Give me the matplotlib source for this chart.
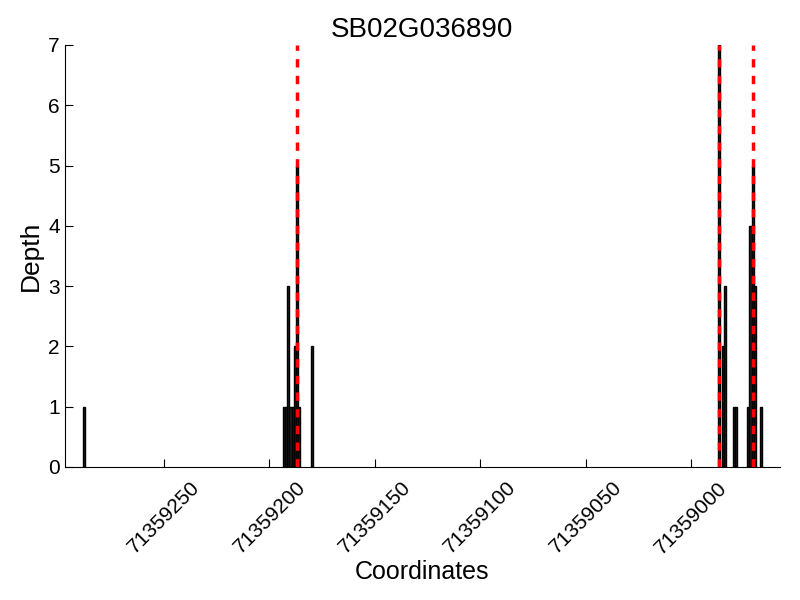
import matplotlib
matplotlib.use('Agg')
import matplotlib.pyplot as plt

plt.rcParams['font.family'] = ['Liberation Sans', 'DejaVu Sans']
plt.rcParams['lines.scale_dashes'] = False

title = 'SB02G036890'
positions = [71359288,
             71359193, 71359192, 71359191, 71359190, 71359189, 71359188, 71359187, 71359186,
             71359180,
             71358987, 71358985, 71358984, 71358980, 71358979,
             71358973, 71358972, 71358971, 71358970, 71358967]
depths = [1,
          1, 1, 3, 1, 1, 2, 5, 1,
          2,
          7, 2, 3, 1, 1,
          1, 4, 5, 3, 1]
sites = [71359187, 71358987, 71358971]
xticks = [71359250, 71359200, 71359150, 71359100, 71359050, 71359000]

fig = plt.figure(figsize=(8, 6), dpi=100)
ax = fig.add_axes([0.081, 0.222, 0.894, 0.703])

ax.bar(positions, depths, width=1, align='center', color='#222222', edgecolor='black', linewidth=1)
for s in sites:
    ax.axvline(s, color='red', linestyle=(0, (6, 6)), linewidth=2.5)

ax.set_xlim(71359297, 71358958)
ax.set_ylim(0, 7)
ax.set_xticks(xticks)
ax.set_xticklabels([str(t) for t in xticks], rotation=45, ha='center', fontsize=15)
ax.set_yticks(range(8))
ax.tick_params(axis='y', labelsize=15)
ax.tick_params(direction='in', length=6, top=False, right=False)
ax.tick_params(axis='x', pad=8)

ax.spines['top'].set_visible(False)
ax.spines['right'].set_visible(False)

ax.set_title(title, fontsize=20)
ax.set_xlabel('Coordinates', fontsize=18, labelpad=2)
ax.set_ylabel('Depth', fontsize=19)

fig.savefig('out.png', dpi=100)
